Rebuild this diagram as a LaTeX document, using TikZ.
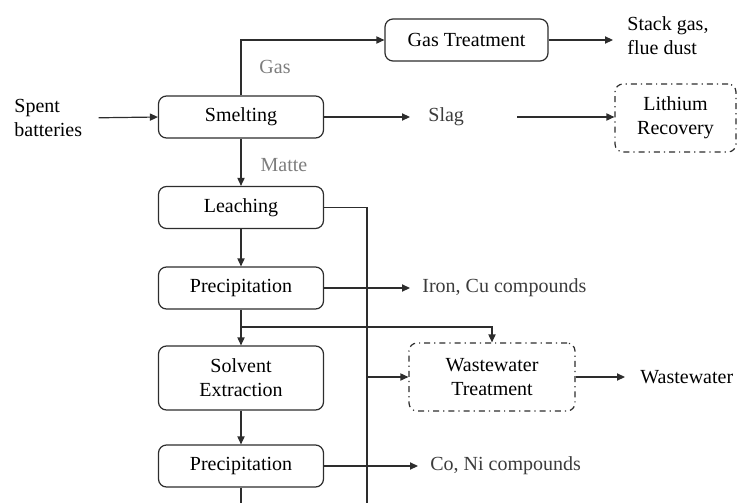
\documentclass[tikz,border=0pt]{standalone}
\usepackage{fontspec}
\setmainfont{Liberation Serif}
\definecolor{primary}{RGB}{45, 45, 45}
\definecolor{secondary}{RGB}{125, 125, 125}
\definecolor{darkgray}{RGB}{60, 60, 60}
\usepackage{tikz}
\usetikzlibrary{shapes, arrows.meta, positioning, calc}

\begin{document}
\begin{tikzpicture}[x=0.5pt, y=-0.5pt,
		process/.style={rectangle, draw=primary, line width=0.6pt, rounded corners=4pt,
			minimum width=82.5pt, minimum height=21pt,
			align=center, font=\normalsize, text=black, inner sep=2pt},
		optional/.style={process, dash dot},
		product/.style={font=\normalsize\color{darkgray}, align=left, inner xsep=6pt, inner ysep=1pt},
		stream/.style={font=\normalsize\color{secondary}},
		arrow/.style={-{Triangle[length=4pt, width=3.6pt]}, line width=0.6pt, color=primary},
		line/.style={line width=0.6pt, color=primary}
		]
		\useasboundingbox (0, 0) rectangle (738, 503) ;
		
		\node[align=left, inner sep=0pt, anchor=west] (spent) at (14, 118)
		{Spent\\batteries} ;
		
		\node[process] (smelt) at (241, 117) {Smelting} ;
		\node[process, minimum width=81.5pt] (gastreat) at (466.5, 40) {Gas Treatment} ;
		\node[product, anchor=west, inner xsep=7pt, text=black] (stack) at (613, 36)
		{Stack gas,\\flue dust} ;
		\node[product, anchor=west, inner xsep=9pt] (slag) at (410, 117) {Slag} ;
		\node[optional, minimum width=60.5pt, minimum height=34pt] (lith) at (675.5, 118)
		{Lithium\\Recovery} ;
		
		\node[process] (leach) at (241, 207.5) {Leaching} ;
		\node[process] (prec1) at (241, 288) {Precipitation} ;
		\node[process, minimum height=32pt] (solv) at (241, 378) {Solvent\\Extraction} ;
		\node[process] (prec2) at (241, 466) {Precipitation} ;
		\node[optional, minimum width=83pt, minimum height=34pt] (wwt) at (492, 377)
		{Wastewater\\Treatment} ;
		
		\node[product, anchor=west] (iron) at (410, 288) {Iron, Cu compounds} ;
		\node[product, anchor=west] (coni) at (418, 466) {Co, Ni compounds} ;
		\node[product, anchor=west, inner xsep=7.5pt, text=black] (ww) at (625, 377) {Wastewater} ;
		
		\node[stream] (gas) at (275, 67) {Gas} ;
		\node[stream] (matte) at (284, 165) {Matte} ;
		
		\coordinate (split) at (241, 327) ;
		\coordinate (tap) at (367, 377) ;
		\coordinate (bot1) at (241, 503) ;
		\coordinate (bot2) at (367, 503) ;
		
		\draw[arrow, shorten <=8pt] (spent.east) -- (smelt.west) ;
		\draw[arrow] (smelt.north) |- (gastreat.west) ;
		\draw[arrow] (gastreat.east) -- (gastreat.east -| stack.west) ;
		\draw[arrow] (smelt.east) -- (slag.west) ;
		\draw[arrow, shorten <=17.5pt] (slag.east) -- (slag.east -| lith.west) ;
		
		\draw[arrow] (smelt.south) -- (leach.north) ;
		\draw[arrow] (leach.south) -- (prec1.north) ;
		\draw[arrow] (prec1.south) -- (solv.north) ;
		\draw[arrow] (solv.south) -- (prec2.north) ;
		\draw[line] (prec2.south) -- (bot1) ;
		
		\draw[line] (leach.east) -| (bot2) ;
		\draw[arrow] (prec1.east) -- (iron.west) ;
		\draw[arrow] (prec2.east) -- (coni.west) ;
		\draw[arrow] (split) -| (wwt.north) ;
		\draw[arrow] (tap) -- (wwt.west) ;
		\draw[arrow] (wwt.east) -- (ww.west) ;
	\end{tikzpicture}
\end{document}
